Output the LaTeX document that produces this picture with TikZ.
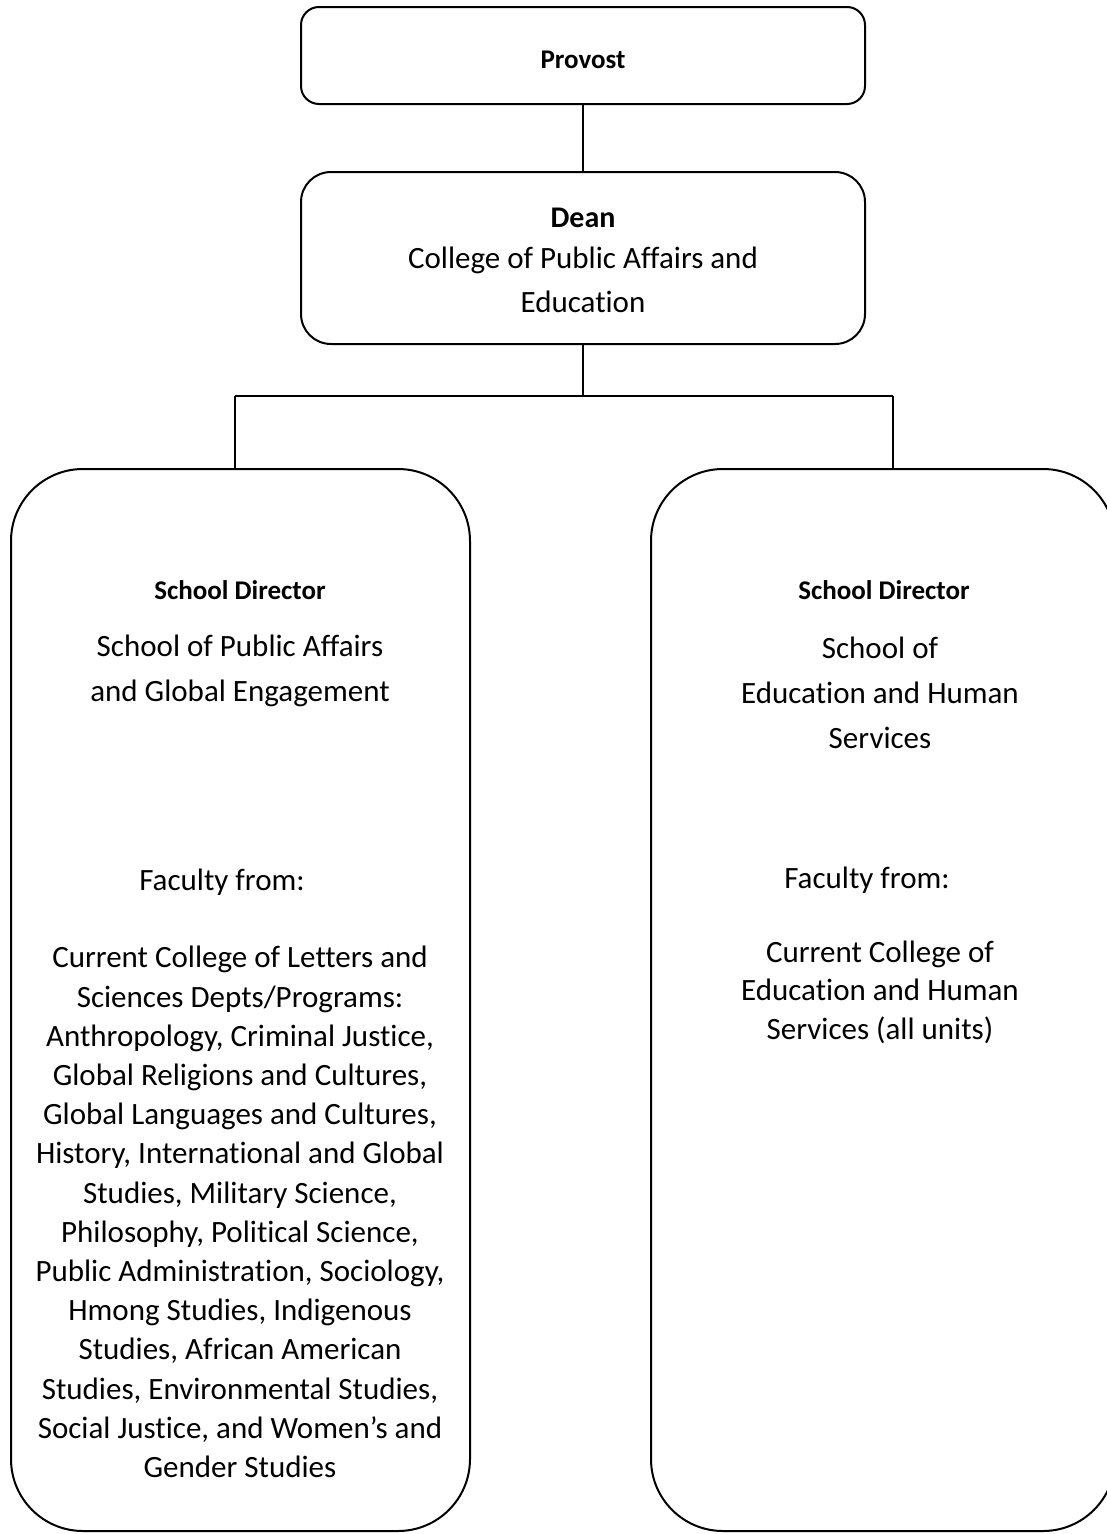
\documentclass[tikz,border=0pt]{standalone}
\usepackage{fontspec}
\setmainfont{Carlito}[Ligatures=NoCommon]
\begin{document}
\begin{tikzpicture}[x=1pt,y=-1pt,
  box/.style={draw=black, line width=2pt, rounded corners=#1, inner sep=0pt},
  box/.default=20pt,
  link/.style={draw=black, line width=2pt},
  head/.style={font=\fontsize{27}{32}\selectfont\bfseries, inner sep=0pt},
  body/.style={font=\fontsize{31}{#1}\selectfont, align=center, inner sep=0pt},
  body/.default=39.2pt]
\useasboundingbox (0,0) rectangle (1107,1534);

% boxes
\node[box=18pt, minimum width=564pt, minimum height=97pt] (provost) at (583,55.5) {};
\node[box=30pt, minimum width=564pt, minimum height=172pt] (dean) at (583,258) {};
\node[box=72pt, minimum width=459pt, minimum height=1062pt] (lbox) at (240.5,1000) {};
\node[box=72pt, minimum width=464pt, minimum height=1062pt] (rbox) at (883,1000) {};

% connectors
\coordinate (jl) at (235,396);
\coordinate (jr) at (893,396);
\draw[link] (provost.south) -- (dean.north);
\draw[link] (dean.south) -- (dean.south |- jl);
\draw[link] (jl) -- (jr);
\draw[link] (jl) -- (jl |- lbox.north);
\draw[link] (jr) -- (jr |- rbox.north);

% top texts
\node[head] (tprovost) at (583,60) {Provost};
\node[head, font=\fontsize{30}{36}\selectfont\bfseries] (tdean) at (583,218) {Dean};
\node[body=44pt] (tcollege) at (583,280) {College of Public Affairs and\\Education};

% left school
\node[head] (tldir) at (240,590) {School Director};
\node[body=45pt] (tlname) at (240,670.5) {School of Public Affairs\\and Global Engagement};
\node[body] (tlfac) at (222,882) {Faculty from:};
\node[body] (tllist) at (240,1212) {Current College of Letters and\\
Sciences Depts/Programs:\\
Anthropology, Criminal Justice,\\
Global Religions and Cultures,\\
Global Languages and Cultures,\\
History, International and Global\\
Studies, Military Science,\\
Philosophy, Political Science,\\
Public Administration, Sociology,\\
Hmong Studies, Indigenous\\
Studies, African American\\
Studies, Environmental Studies,\\
Social Justice, and Women’s and\\
Gender Studies};

% right school
\node[head] (trdir) at (884,590) {School Director};
\node[body=45pt] (trname) at (880,693) {School of\\Education and Human\\Services};
\node[body] (trfac) at (867,880) {Faculty from:};
\node[body=38.5pt] (trlist) at (880,992) {Current College of\\Education and Human\\Services (all units)};
\end{tikzpicture}
\end{document}
